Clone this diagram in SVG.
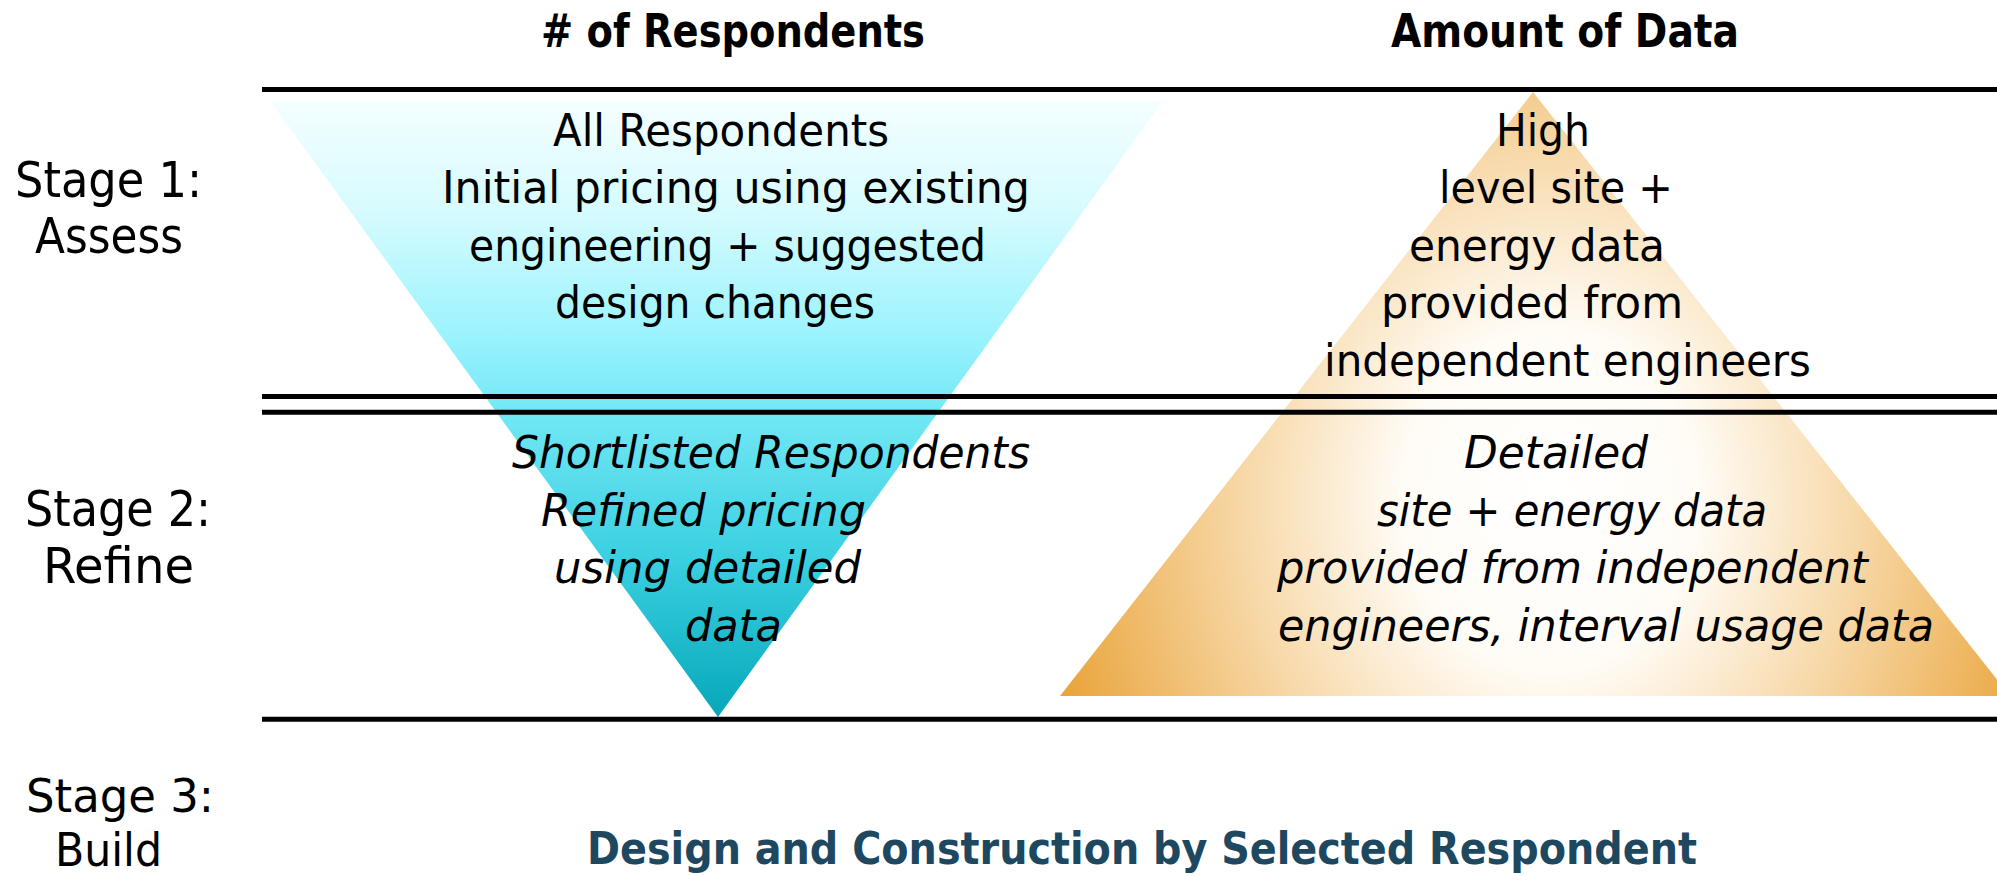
<svg xmlns="http://www.w3.org/2000/svg" width="1997" height="876" viewBox="0 0 1997 876">
  <defs>
    <linearGradient id="cyanGrad" x1="0" y1="101" x2="0" y2="717" gradientUnits="userSpaceOnUse">
      <stop offset="0" stop-color="#f4feff"/>
      <stop offset="0.18" stop-color="#d6fbfe"/>
      <stop offset="0.38" stop-color="#9bf3fd"/>
      <stop offset="0.5" stop-color="#74e8f5"/>
      <stop offset="0.75" stop-color="#38cfe0"/>
      <stop offset="1" stop-color="#06a7b9"/>
    </linearGradient>
    <radialGradient id="orangeGrad" gradientUnits="userSpaceOnUse" cx="1550" cy="500" r="530" gradientTransform="translate(1550 500) scale(1 1.15) translate(-1550 -500)">
      <stop offset="0" stop-color="#ffffff"/>
      <stop offset="0.28" stop-color="#fffcf6"/>
      <stop offset="0.55" stop-color="#f8dcb0"/>
      <stop offset="1" stop-color="#e8a032"/>
    </radialGradient>
    <style>
      .t { font-family: "DejaVu Sans Condensed", "DejaVu Sans", "Liberation Sans", sans-serif; fill: #000; }
      .body { font-size: 45px; }
      .it { font-style: italic; }
      .stage { font-size: 50px; }
      .stage3 { font-size: 46px; }
      .hdr { font-size: 46px; font-weight: bold; }
      .foot { font-size: 44px; font-weight: bold; fill: #1e4760; }
      .rule { stroke: #000; stroke-width: 5; fill: none; }
    </style>
  </defs>

  <g id="respondents-funnel">
    <polygon points="270,101 1163,101 718,717" fill="url(#cyanGrad)"/>
  </g>
  <g id="data-pyramid">
    <polygon points="1533,92 1060,696 2010,696" fill="url(#orangeGrad)"/>
  </g>

  <g id="rules">
    <line class="rule" x1="262" y1="89.5" x2="1997" y2="89.5"/>
    <line class="rule" x1="262" y1="396.5" x2="1997" y2="396.5"/>
    <line class="rule" x1="262" y1="412.3" x2="1997" y2="412.3"/>
    <line class="rule" x1="262" y1="719.3" x2="1997" y2="719.3"/>
  </g>

  <g id="headers">
    <text class="t hdr" x="541" y="46.7" textLength="384" lengthAdjust="spacingAndGlyphs"># of Respondents</text>
    <text class="t hdr" x="1391" y="46.7" textLength="348" lengthAdjust="spacingAndGlyphs">Amount of Data</text>
  </g>

  <g id="stage-labels">
    <text class="t stage" x="15" y="196.7" textLength="187" lengthAdjust="spacingAndGlyphs">Stage 1:</text>
    <text class="t stage" x="35" y="253.3" textLength="148" lengthAdjust="spacingAndGlyphs">Assess</text>
    <text class="t stage" x="25" y="526" textLength="186" lengthAdjust="spacingAndGlyphs">Stage 2:</text>
    <text class="t stage" x="43" y="582.7" textLength="151" lengthAdjust="spacingAndGlyphs">Refine</text>
    <text class="t stage3" x="26" y="812" textLength="188" lengthAdjust="spacingAndGlyphs">Stage 3:</text>
    <text class="t stage3" x="55" y="866" textLength="107" lengthAdjust="spacingAndGlyphs">Build</text>
  </g>

  <g id="stage1-respondents">
    <text class="t body" x="553" y="145.5" textLength="336" lengthAdjust="spacingAndGlyphs">All Respondents</text>
    <text class="t body" x="442" y="203.3" textLength="588" lengthAdjust="spacingAndGlyphs">Initial pricing using existing</text>
    <text class="t body" x="469" y="260.7" textLength="517" lengthAdjust="spacingAndGlyphs">engineering + suggested</text>
    <text class="t body" x="555" y="318.3" textLength="320" lengthAdjust="spacingAndGlyphs">design changes</text>
  </g>

  <g id="stage1-data">
    <text class="t body" x="1496" y="145.5" textLength="94" lengthAdjust="spacingAndGlyphs">High</text>
    <text class="t body" x="1439" y="203.3" textLength="234" lengthAdjust="spacingAndGlyphs">level site +</text>
    <text class="t body" x="1409" y="260.7" textLength="256" lengthAdjust="spacingAndGlyphs">energy data</text>
    <text class="t body" x="1381" y="318.3" textLength="302" lengthAdjust="spacingAndGlyphs">provided from</text>
    <text class="t body" x="1324" y="375.7" textLength="487" lengthAdjust="spacingAndGlyphs">independent engineers</text>
  </g>

  <g id="stage2-respondents">
    <text class="t body it" x="512" y="468.3" textLength="518" lengthAdjust="spacingAndGlyphs">Shortlisted Respondents</text>
    <text class="t body it" x="541" y="525.7" textLength="325" lengthAdjust="spacingAndGlyphs">Refined pricing</text>
    <text class="t body it" x="554" y="583.3" textLength="307" lengthAdjust="spacingAndGlyphs">using detailed</text>
    <text class="t body it" x="685" y="641" textLength="97" lengthAdjust="spacingAndGlyphs">data</text>
  </g>

  <g id="stage2-data">
    <text class="t body it" x="1464" y="468.3" textLength="184" lengthAdjust="spacingAndGlyphs">Detailed</text>
    <text class="t body it" x="1377" y="525.7" textLength="390" lengthAdjust="spacingAndGlyphs">site + energy data</text>
    <text class="t body it" x="1277" y="583.3" textLength="591" lengthAdjust="spacingAndGlyphs">provided from independent</text>
    <text class="t body it" x="1278" y="641" textLength="656" lengthAdjust="spacingAndGlyphs">engineers, interval usage data</text>
  </g>

  <g id="stage3-build">
    <text class="t foot" x="587" y="864" textLength="1110" lengthAdjust="spacingAndGlyphs">Design and Construction by Selected Respondent</text>
  </g>
</svg>
